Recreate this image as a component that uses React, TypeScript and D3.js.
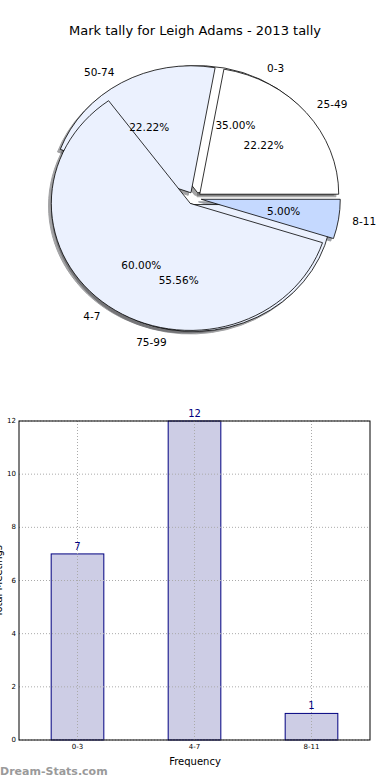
import * as d3 from "d3";
import { useEffect, useRef } from "react";

const chartTitle = "Mark tally for Leigh Adams - 2013 tally";

// first pie: mark tally groups
const tallyLabels = ["0-3", "4-7", "8-11"];
const tallyCounts = [7, 12, 1];
const tallyColors = ["#ffffff", "#ebf1fe", "#c5d9ff"];

// second pie: percentage groups
const pctLabels = ["25-49", "50-74", "75-99"];
const pctCounts = [2, 2, 5];
const pctColors = ["#ffffff", "#ebf1fe", "#ebf1fe"];

// bar chart
const barCategories = ["0-3", "4-7", "8-11"];
const barValues = [7, 12, 1];
const yTicks = [0, 2, 4, 6, 8, 10, 12];

const width = 390;
const height = 780;
const font = "DejaVu Sans, sans-serif";

type Slice = {
  label: string;
  color: string;
  pct: number;
  arc: d3.PieArcDatum<number>;
};

const makeSlices = (labels: string[], values: number[], colors: string[]): Slice[] => {
  // matplotlib style: start at 3 o'clock, go counter clockwise
  const pie = d3.pie<number>()
    .sort(null)
    .startAngle(Math.PI / 2)
    .endAngle(Math.PI / 2 - 2 * Math.PI);
  const total = d3.sum(values);
  return pie(values).map((a, i) => ({
    label: labels[i],
    color: colors[i],
    pct: (values[i] / total) * 100,
    arc: a,
  }));
};

const App = () => {
  const svgRef = useRef<SVGSVGElement | null>(null);

  useEffect(() => {
    const svg = d3.select(svgRef.current);
    svg.selectAll("*").remove();

    svg.append("text")
      .attr("x", 195)
      .attr("y", 30)
      .attr("text-anchor", "middle")
      .attr("dominant-baseline", "central")
      .style("font-size", "13px")
      .text(chartTitle);

    // ---- pie ----
    const cx = 194.4, cy = 198.3, rx = 139, ry = 127;
    const explode = 0.05;
    const arcGen = d3.arc<d3.PieArcDatum<number>>().innerRadius(0).outerRadius(1);

    const first = makeSlices(tallyLabels, tallyCounts, tallyColors);
    const second = makeSlices(pctLabels, pctCounts, pctColors);

    const mid = (s: Slice) => Math.PI / 2 - (s.arc.startAngle + s.arc.endAngle) / 2;
    const shift = (s: Slice) => {
      const t = mid(s);
      return [cx + explode * rx * Math.cos(t), cy - explode * ry * Math.sin(t)];
    };

    const pieG = svg.append("g");
    const all = [...first, ...second];

    // shadows underneath every wedge
    all.forEach((s) => {
      const [sx, sy] = shift(s);
      const c = d3.rgb(s.color);
      const dark = d3.rgb(c.r * 0.3, c.g * 0.3, c.b * 0.3).toString();
      pieG.append("path")
        .attr("d", arcGen(s.arc) ?? "")
        .attr("transform", `translate(${sx - 0.02 * rx},${sy + 0.02 * ry}) scale(${rx},${ry})`)
        .attr("fill", dark)
        .attr("stroke", dark)
        .attr("vector-effect", "non-scaling-stroke")
        .attr("opacity", 0.5);
    });

    // layering as it shows in the picture
    const order = [first[0], second[0], second[1], second[2], first[1], first[2]];
    order.forEach((s) => {
      const [sx, sy] = shift(s);
      pieG.append("path")
        .attr("d", arcGen(s.arc) ?? "")
        .attr("transform", `translate(${sx},${sy}) scale(${rx},${ry})`)
        .attr("fill", s.color)
        .attr("stroke", "#000")
        .attr("stroke-width", 0.8)
        .attr("stroke-linejoin", "round")
        .attr("vector-effect", "non-scaling-stroke");
    });

    all.forEach((s) => {
      const [sx, sy] = shift(s);
      const t = mid(s);
      pieG.append("text")
        .attr("x", sx + 1.1 * rx * Math.cos(t))
        .attr("y", sy - 1.1 * ry * Math.sin(t))
        .attr("text-anchor", Math.cos(t) > 0 ? "start" : "end")
        .attr("dominant-baseline", "central")
        .style("font-size", "10.5px")
        .text(s.label);
      pieG.append("text")
        .attr("x", sx + 0.6 * rx * Math.cos(t))
        .attr("y", sy - 0.6 * ry * Math.sin(t))
        .attr("text-anchor", "middle")
        .attr("dominant-baseline", "central")
        .style("font-size", "10.5px")
        .text(`${s.pct.toFixed(2)}%`);
    });

    // ---- bars ----
    const left = 19, right = 370, top = 421, bottom = 740;
    const xScale = d3.scaleBand()
      .domain(barCategories)
      .range([left, right])
      .paddingInner(0.55)
      .paddingOuter(0.275);
    const yScale = d3.scaleLinear().domain([0, 12]).range([bottom, top]);

    const barG = svg.append("g");

    barG.selectAll("rect.bar")
      .data(barValues)
      .enter()
      .append("rect")
      .attr("class", "bar")
      .attr("x", (d, i) => xScale(barCategories[i]) ?? 0)
      .attr("y", (d) => yScale(d))
      .attr("width", xScale.bandwidth())
      .attr("height", (d) => bottom - yScale(d))
      .attr("fill", "#cdcde5")
      .attr("stroke", "#000080")
      .attr("stroke-width", 1);

    // dotted grid over the bars
    yTicks.forEach((t) => {
      barG.append("line")
        .attr("x1", left).attr("x2", right)
        .attr("y1", yScale(t)).attr("y2", yScale(t))
        .attr("stroke", "#aaa")
        .attr("stroke-dasharray", "1,2");
    });
    barCategories.forEach((c) => {
      const x = (xScale(c) ?? 0) + xScale.bandwidth() / 2;
      barG.append("line")
        .attr("x1", x).attr("x2", x)
        .attr("y1", top).attr("y2", bottom)
        .attr("stroke", "#aaa")
        .attr("stroke-dasharray", "1,2");
    });

    barG.append("rect")
      .attr("x", left).attr("y", top)
      .attr("width", right - left).attr("height", bottom - top)
      .attr("fill", "none")
      .attr("stroke", "#000")
      .attr("stroke-width", 1);

    // value labels
    barG.selectAll("text.val")
      .data(barValues)
      .enter()
      .append("text")
      .attr("class", "val")
      .attr("x", (d, i) => (xScale(barCategories[i]) ?? 0) + xScale.bandwidth() / 2)
      .attr("y", (d) => yScale(d) - 4)
      .attr("text-anchor", "middle")
      .attr("fill", "#000080")
      .style("font-size", "10px")
      .text((d) => d);

    // y tick labels
    yTicks.forEach((t) => {
      barG.append("text")
        .attr("x", 16)
        .attr("y", yScale(t))
        .attr("text-anchor", "end")
        .attr("dominant-baseline", "central")
        .style("font-size", "7px")
        .text(t);
    });

    // x tick labels
    barCategories.forEach((c) => {
      barG.append("text")
        .attr("x", (xScale(c) ?? 0) + xScale.bandwidth() / 2)
        .attr("y", bottom + 4)
        .attr("text-anchor", "middle")
        .attr("dominant-baseline", "hanging")
        .style("font-size", "7px")
        .text(c);
    });

    barG.append("text")
      .attr("x", 195)
      .attr("y", 761)
      .attr("text-anchor", "middle")
      .attr("dominant-baseline", "central")
      .style("font-size", "10px")
      .text("Frequency");

    // y label, clipped at the page edge like the original
    barG.append("text")
      .attr("transform", `translate(2,581) rotate(-90)`)
      .attr("text-anchor", "middle")
      .style("font-size", "10px")
      .text("Total Meetings");

    svg.append("text")
      .attr("x", 0)
      .attr("y", 775)
      .attr("fill", "#9a9a9a")
      .style("font-size", "11px")
      .style("font-weight", "bold")
      .text("Dream-Stats.com");
  }, []);

  return (
    <svg
      ref={svgRef}
      width={width}
      height={height}
      style={{ position: "absolute", left: 0, top: 0, fontFamily: font }}
    ></svg>
  );
};

export default App;
